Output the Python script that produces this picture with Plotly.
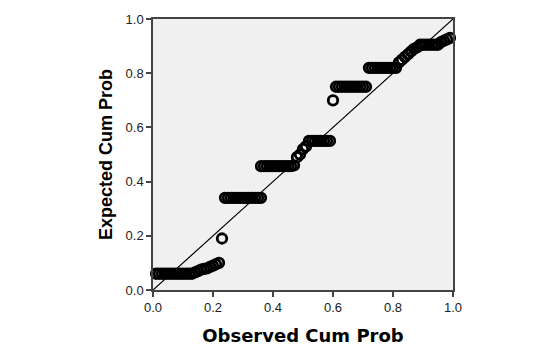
import plotly.graph_objects as go

observed = [0.01, 0.02, 0.03, 0.04, 0.05, 0.06, 0.07, 0.08, 0.09, 0.10, 0.11, 0.12, 0.13,
            0.14, 0.15, 0.16, 0.17, 0.18, 0.19, 0.20, 0.21, 0.22,
            0.23,
            0.24, 0.25, 0.26, 0.27, 0.28, 0.29, 0.30, 0.31, 0.32, 0.33, 0.34, 0.35, 0.36,
            0.36, 0.37, 0.38, 0.39, 0.40, 0.41, 0.42, 0.43, 0.44, 0.45, 0.46, 0.47,
            0.48, 0.49, 0.50, 0.51,
            0.52, 0.53, 0.54, 0.55, 0.56, 0.57, 0.58, 0.59,
            0.60,
            0.61, 0.62, 0.63, 0.64, 0.65, 0.66, 0.67, 0.68, 0.69, 0.70, 0.71,
            0.72, 0.73, 0.74, 0.75, 0.76, 0.77, 0.78, 0.79, 0.80, 0.81,
            0.82, 0.83, 0.84, 0.85, 0.86, 0.87, 0.88,
            0.89, 0.90, 0.91, 0.92, 0.93, 0.94, 0.95,
            0.96, 0.97, 0.98, 0.99]
expected = [0.06, 0.06, 0.06, 0.06, 0.06, 0.06, 0.06, 0.06, 0.06, 0.06, 0.06, 0.06, 0.06,
            0.065, 0.07, 0.075, 0.078, 0.08, 0.085, 0.09, 0.095, 0.10,
            0.19,
            0.34, 0.34, 0.34, 0.34, 0.34, 0.34, 0.34, 0.34, 0.34, 0.34, 0.34, 0.34, 0.34,
            0.457, 0.457, 0.457, 0.457, 0.457, 0.457, 0.457, 0.457, 0.457, 0.457, 0.457, 0.46,
            0.49, 0.50, 0.52, 0.53,
            0.55, 0.55, 0.55, 0.55, 0.55, 0.55, 0.55, 0.55,
            0.70,
            0.75, 0.75, 0.75, 0.75, 0.75, 0.75, 0.75, 0.75, 0.75, 0.75, 0.75,
            0.82, 0.82, 0.82, 0.82, 0.82, 0.82, 0.82, 0.82, 0.82, 0.82,
            0.84, 0.85, 0.86, 0.87, 0.88, 0.89, 0.895,
            0.905, 0.905, 0.905, 0.905, 0.905, 0.905, 0.905,
            0.915, 0.92, 0.925, 0.93]

diag = [0, 1]
ticks = [0.0, 0.2, 0.4, 0.6, 0.8, 1.0]

fig = go.Figure()
fig.add_trace(go.Scatter(x=diag, y=diag, mode="lines",
                         line=dict(color="black", width=1.2), hoverinfo="skip"))
fig.add_trace(go.Scatter(x=observed, y=expected, mode="markers",
                         marker=dict(symbol="circle-open", size=9.5, color="black",
                                     line=dict(width=2.8, color="black")),
                         cliponaxis=False))

axis_common = dict(range=[0, 1], tickvals=ticks, tickformat=".1f",
                   showgrid=False, zeroline=False, showline=True, mirror=True,
                   linecolor="#444", linewidth=1.5, ticks="outside", ticklen=5,
                   tickcolor="#444", tickwidth=1.5,
                   tickfont=dict(family="Liberation Sans, Arial", size=13, color="#222"))

fig.update_layout(
    width=533, height=354,
    margin=dict(l=153, r=80, t=19, b=64),
    paper_bgcolor="white", plot_bgcolor="#f0f0f0",
    showlegend=False,
    xaxis=dict(**axis_common,
               title=dict(text="<b>Observed Cum Prob</b>", standoff=15,
                          font=dict(family="DejaVu Sans", size=18, color="black"))),
    yaxis=dict(**axis_common,
               title=dict(text="<b>Expected Cum Prob</b>", standoff=8,
                          font=dict(family="Liberation Sans, Arial", size=18, color="black"))),
)

fig.write_html("out.html")
